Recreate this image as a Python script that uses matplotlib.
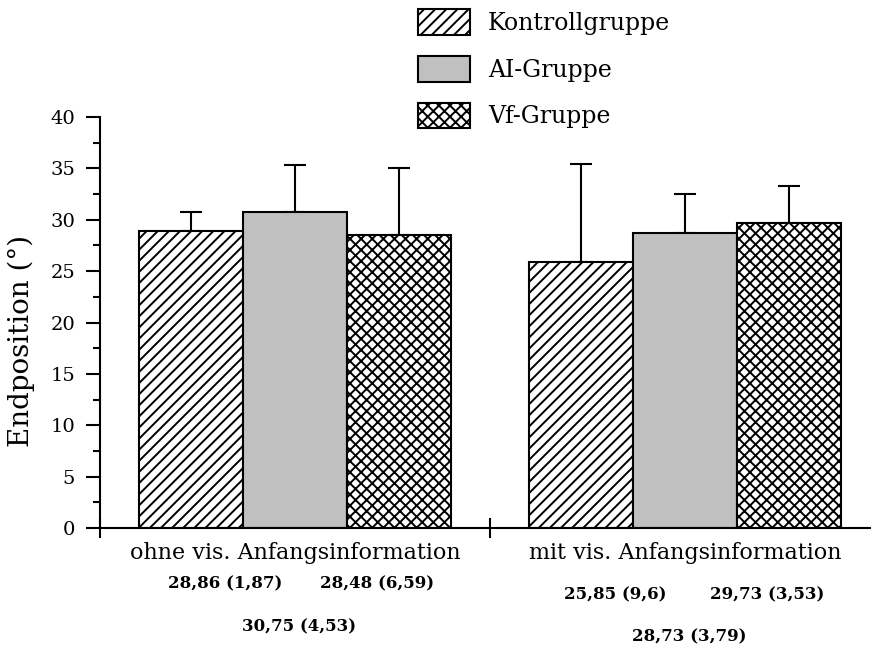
import numpy as np
import matplotlib
matplotlib.use('Agg')
from matplotlib import pyplot as plt
from matplotlib.ticker import MultipleLocator, FixedLocator

conditions = ['ohne vis. Anfangsinformation', 'mit vis. Anfangsinformation']
groups = ['Kontrollgruppe', 'AI-Gruppe', 'Vf-Gruppe']
means = {
    'Kontrollgruppe': [28.86, 25.85],
    'AI-Gruppe': [30.75, 28.73],
    'Vf-Gruppe': [28.48, 29.73],
}
sds = {
    'Kontrollgruppe': [1.87, 9.6],
    'AI-Gruppe': [4.53, 3.79],
    'Vf-Gruppe': [6.59, 3.53],
}

plt.rcParams['hatch.linewidth'] = 1.4
plt.rcParams['font.family'] = 'DejaVu Serif'

fig = plt.figure(figsize=(8.71, 6.48), dpi=100)
ax = fig.add_axes([100/871, 1 - 528/648, 771/871, 411/648])

x = np.array([1.0, 2.0])
w = 0.267
styles = {
    'Kontrollgruppe': dict(facecolor='white', hatch='///'),
    'AI-Gruppe': dict(facecolor='#c0c0c0', hatch=None),
    'Vf-Gruppe': dict(facecolor='white', hatch='xxx'),
}
for i, g in enumerate(groups):
    pos = x + (i - 1) * w
    ax.bar(pos, means[g], w, edgecolor='black', linewidth=1.5, label=g,
           zorder=2, **styles[g])
    ax.errorbar(pos, means[g], yerr=[np.zeros(2), sds[g]], fmt='none',
                ecolor='black', elinewidth=1.5, capsize=8, capthick=1.5,
                zorder=1)

ax.set_xlim(0.5, 2.477)
ax.set_ylim(0, 40)
ax.spines['top'].set_visible(False)
ax.spines['right'].set_visible(False)
ax.spines['left'].set_linewidth(1.5)
ax.spines['bottom'].set_linewidth(1.5)

ax.yaxis.set_major_locator(MultipleLocator(5))
ax.yaxis.set_minor_locator(MultipleLocator(2.5))
ax.tick_params(axis='y', which='major', length=10, width=1.5, labelsize=14, pad=8)
ax.tick_params(axis='y', which='minor', length=5, width=1.5)
ax.xaxis.set_major_locator(FixedLocator([0.5, 1.5]))
ax.set_xticklabels([])
ax.tick_params(axis='x', which='major', direction='inout', length=14, width=1.5)
ax.set_ylabel('Endposition (°)', fontsize=20)
ax.yaxis.set_label_coords(-0.084, 0.455)

# condition names and group statistics below the axis
for xi, c in zip(x, conditions):
    ax.text(xi, -1.4, c, ha='center', va='top', fontsize=16, clip_on=False)

stat_font = dict(ha='center', va='center', fontsize=12, fontweight='bold',
                 clip_on=False)
rows = {0: (-5.4, -9.6), 1: (-6.5, -10.6)}


def fmt(m, s):
    return f'{m:g} ({s:g})'.replace('.', ',')


for j in range(2):
    r1, r2 = rows[j]
    ax.text(x[j] - 0.18, r1, fmt(means['Kontrollgruppe'][j], sds['Kontrollgruppe'][j]), **stat_font)
    ax.text(x[j] + 0.21, r1, fmt(means['Vf-Gruppe'][j], sds['Vf-Gruppe'][j]), **stat_font)
    ax.text(x[j] + 0.01, r2, fmt(means['AI-Gruppe'][j], sds['AI-Gruppe'][j]), **stat_font)

fig.legend(loc='upper left', bbox_to_anchor=(409/871, 1 - 0/648), frameon=False,
           fontsize=17, handlelength=2.2, handleheight=1.3, labelspacing=0.88,
           handletextpad=0.75, borderaxespad=0)

fig.savefig('out.png', dpi=100)
